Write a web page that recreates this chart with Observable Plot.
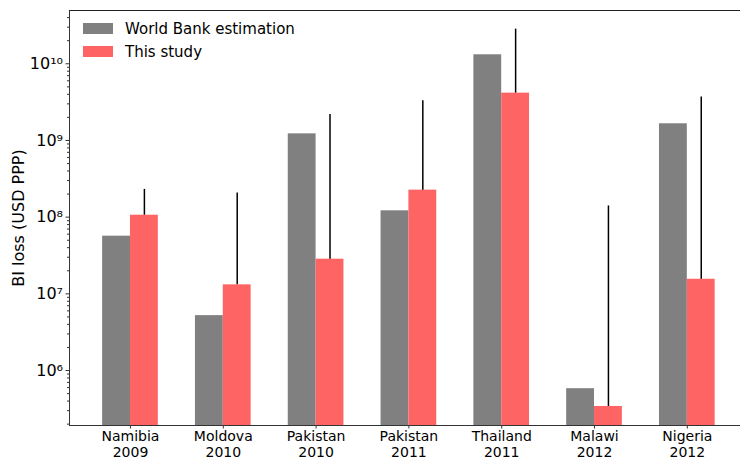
<!DOCTYPE html>
<html><head><meta charset="utf-8">
<script src="https://cdn.jsdelivr.net/npm/d3@7"></script>
<script src="https://cdn.jsdelivr.net/npm/@observablehq/plot@0.6"></script>
<style>
body{margin:0;background:#fff;font-family:"DejaVu Sans",sans-serif;}
#wrap{position:relative;width:740px;height:463px;}
.legend{position:absolute;left:83px;top:17px;font-size:15px;color:#000;}
.item{display:flex;align-items:center;height:23px;}
.sw{width:30px;height:11px;margin-right:12px;}
</style></head><body><div id="wrap"></div>
<script>
const labels = ["Namibia\n2009", "Moldova\n2010", "Pakistan\n2010", "Pakistan\n2011", "Thailand\n2011", "Malawi\n2012", "Nigeria\n2012"];
const worldBank = [5.65e7, 5.2e6, 1.22e9, 1.21e8, 1.31e10, 5.8e5, 1.65e9];
const thisStudy = [1.06e8, 1.31e7, 2.83e7, 2.25e8, 4.14e9, 3.4e5, 1.55e7];
const upperErr = [2.3e8, 2.07e8, 2.18e9, 3.3e9, 2.83e10, 1.4e8, 3.7e9];
const seriesNames = ["World Bank estimation", "This study"];
const colors = ["#808080", "#ff6464"];
const majorTicks = [1e6, 1e7, 1e8, 1e9, 1e10];

const yMin = 1.92e5, yMax = 4.95e10;
const xDom = [-0.657, 6.573];

const data = labels.map((l, i) => ({i, label: l, wb: worldBank[i], st: thisStudy[i], up: upperErr[i]}));
const minorTicks = [];
for (let e = 5; e <= 10; e++) for (let m = 2; m <= 9; m++) { const v = m * 10 ** e; if (v >= yMin && v <= yMax) minorTicks.push(v); }
const sup = {"0":"⁰","1":"¹","2":"²","3":"³","4":"⁴","5":"⁵","6":"⁶","7":"⁷","8":"⁸","9":"⁹"};
const fmt = v => "10" + String(Math.round(Math.log10(v))).split("").map(c => sup[c]).join("");

const chart = Plot.plot({
  width: 740, height: 463,
  marginLeft: 69, marginRight: 0, marginTop: 10, marginBottom: 38,
  style: {fontFamily: "DejaVu Sans, sans-serif", fontSize: "15px", color: "#000", background: "#fff"},
  x: {type: "linear", domain: xDom},
  y: {type: "log", domain: [yMin, yMax]},
  marks: [
    Plot.rect(data, {x1: d => d.i - 0.3, x2: d => d.i, y1: yMin, y2: "wb", fill: colors[0]}),
    Plot.rect(data, {x1: d => d.i, x2: d => d.i + 0.3, y1: yMin, y2: "st", fill: colors[1]}),
    Plot.ruleX(data, {x: d => d.i + 0.15, y1: "st", y2: "up", stroke: "#000", strokeWidth: 1.5}),
    Plot.axisY({ticks: minorTicks, tickSize: 2, tickFormat: () => "", label: null, stroke: "#333"}),
    Plot.axisY({ticks: majorTicks, tickSize: 3.5, tickPadding: 3, tickFormat: fmt, label: "BI loss (USD PPP)", labelAnchor: "center", labelArrow: "none", labelOffset: 57, stroke: "#333", fontSize: 16}),
    Plot.axisX({ticks: data.map(d => d.i), tickFormat: i => labels[i], tickSize: 3.5, tickPadding: 0, label: null, lineHeight: 1.18, fontSize: 14, stroke: "#333"}),
    Plot.ruleY([yMin], {stroke: "#333"}),
    Plot.ruleY([yMax], {stroke: "#222"}),
    Plot.ruleX([xDom[0]], {stroke: "#333"})
  ]
});
const wrap = document.getElementById("wrap");
wrap.appendChild(chart);
const leg = document.createElement("div");
leg.className = "legend";
seriesNames.forEach((n, k) => {
  const it = document.createElement("div"); it.className = "item";
  const sw = document.createElement("div"); sw.className = "sw"; sw.style.background = colors[k];
  const tx = document.createElement("span"); tx.textContent = n;
  it.appendChild(sw); it.appendChild(tx); leg.appendChild(it);
});
wrap.appendChild(leg);
</script></body></html>
